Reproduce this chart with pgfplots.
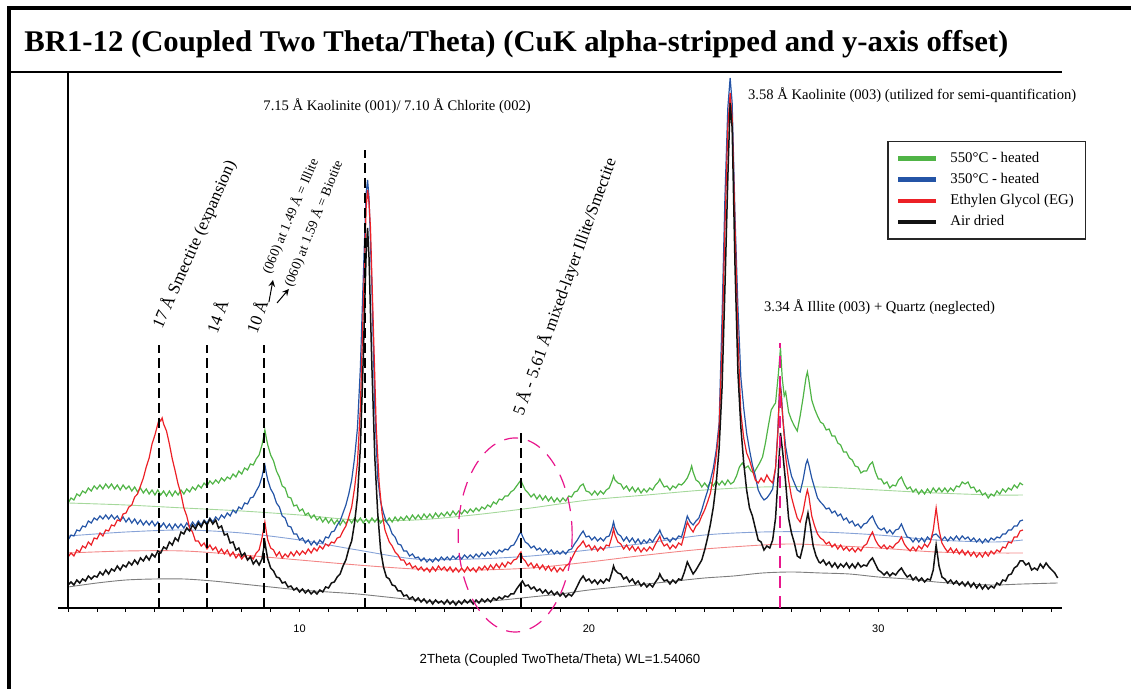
\documentclass[border=0pt]{standalone}
\usepackage{fontspec}
\setmainfont{Liberation Serif}
\newfontfamily\sansf{Liberation Sans}
\usepackage{graphicx}
\usepackage{pgfplots}
\pgfplotsset{compat=1.18}
\definecolor{cgreen}{RGB}{80,180,70}
\definecolor{cblue}{RGB}{36,84,166}
\definecolor{cred}{RGB}{236,32,38}
\definecolor{cblack}{RGB}{18,18,18}
\definecolor{bggreen}{RGB}{165,216,155}
\definecolor{bgblue}{RGB}{135,163,215}
\definecolor{bgred}{RGB}{243,135,135}
\definecolor{bgblack}{RGB}{125,125,125}
\definecolor{cmag}{RGB}{232,22,140}
\begin{document}
\begin{tikzpicture}[x=0.5pt,y=0.5pt]
\useasboundingbox (0,0) rectangle (1131,689);
% outer frame and title
\draw[line width=1.6pt] (9,-20) -- (9,681) -- (1140,681);
\draw[line width=1.3pt] (10,617) -- (1062,617);
\node[anchor=base west, inner sep=0pt] at (24,637) {\resizebox{492pt}{\height}{\bfseries\fontsize{15}{16}\selectfont BR1-12 (Coupled Two Theta/Theta) (CuK alpha-stripped and y-axis offset)}};
\begin{axis}[
  at={(29pt,40.5pt)}, anchor=south west, scale only axis,
  width=502pt, height=266.5pt,
  xmin=1.65, xmax=36.35, ymin=0, ymax=533,
  axis x line*=bottom, axis y line=none,
  x axis line style={line width=0.6pt},
  xtick={10,20,30}, xticklabels={10,20,30},
  minor xtick={2,3,...,36},
  tick align=outside, major tick length=2pt, minor tick length=2pt,
  tick style={black, line width=0.5pt},
  xticklabel style={font=\sansf\fontsize{5.5}{6}\selectfont, yshift=-3pt},
  xlabel={2Theta (Coupled TwoTheta/Theta) WL=1.54060},
  xlabel style={font=\sansf\fontsize{6.6}{7}\selectfont, at={(axis description cs:0.5,0)}, anchor=center, yshift=-26pt},
  clip=false,
  legend style={at={(0.826,0.876)}, anchor=north west, draw=black!85, line width=0.7pt,
    font=\fontsize{7.4}{8}\selectfont, cells={anchor=west}, inner xsep=4pt, inner ysep=3pt,
    /tikz/every odd column/.append style={column sep=4pt}},
  legend image code/.code={\draw[line width=2.2pt] (0pt,0pt) -- (19pt,0pt);},
]
% backgrounds
\addplot[bggreen, line width=0.45pt, smooth, forget plot] coordinates {(2,105)(4,103)(6,100)(8,97)(10,93)(12,88)(14,88)(16,93)(18,100)(20,108)(22,113)(24,118)(26,121)(28,121)(30,118)(32,115)(34,113)(35,113)};
\addplot[bgblue, line width=0.45pt, smooth, forget plot] coordinates {(2,72)(4,76)(6,78)(8,75)(10,68)(12,58)(14,49)(16,49)(18,52)(20,58)(22,65)(24,73)(26,76)(28,76)(30,73)(32,68)(34,66)(35,68)};
\addplot[bgred, line width=0.45pt, smooth, forget plot] coordinates {(2,55)(4,57)(6,57)(8,53)(10,48)(12,43)(14,39)(16,38)(18,40)(20,46)(22,53)(24,59)(26,63)(27,64)(28,63)(30,60)(32,56)(34,55)(35,55)};
\addplot[bgblack, line width=0.45pt, smooth, forget plot] coordinates {(2,21)(3,25)(4,28)(5,29)(6,29)(7,27)(8,24)(9,21)(10,18)(11,16)(12,14)(13,11)(14,8)(15,6)(16,6)(17,8)(18,11)(19,14)(20,18)(21,21)(22,24)(23,27)(24,30)(25,32)(26,35)(27,36)(28,35)(29,34)(30,31)(31,29)(32,26)(33,24)(34,23)(35,24)(36.2,25)};
% 550 C heated
\addplot[cgreen, line width=0.6pt] coordinates {
(2.0,105)(2.1,110)(2.2,108)(2.3,114)(2.4,112)(2.5,117)(2.6,115)(2.7,120)(2.8,117)(2.9,122)(3.0,119)
(3.1,123)(3.2,119)(3.3,124)(3.4,120)(3.5,124)(3.6,119)(3.7,123)(3.8,118)(3.9,123)(4.0,119)
(4.1,122)(4.2,117)(4.3,121)(4.4,116)(4.5,120)(4.6,115)(4.7,119)(4.8,114)(4.9,118)(5.0,113)
(5.1,118)(5.2,113)(5.3,117)(5.4,112)(5.5,117)(5.6,112)(5.7,117)(5.8,113)(5.9,118)(6.0,114)
(6.1,119)(6.2,116)(6.3,121)(6.4,118)(6.5,123)(6.6,120)(6.7,125)(6.8,122)(6.9,127)(7.0,124)
(7.1,128)(7.2,125)(7.3,130)(7.4,127)(7.5,131)(7.6,129)(7.7,134)(7.8,131)(7.9,137)(8.0,134)
(8.1,140)(8.2,138)(8.3,144)(8.4,143)(8.5,149)(8.6,153)(8.7,163)(8.75,170)(8.8,178)(8.85,170)(8.9,163)(9.0,153)
(9.1,147)(9.2,137)(9.3,131)(9.4,122)(9.5,120)(9.6,111)(9.7,110)(9.8,102)(9.9,103)(10.0,97)
(10.1,99)(10.2,93)(10.3,95)(10.4,90)(10.5,93)(10.6,88)(10.7,91)(10.8,86)(10.9,90)(11.0,85)
(11.1,89)(11.2,84)(11.3,88)(11.4,83)(11.5,88)(11.6,84)(11.7,89)(11.8,85)(11.9,90)(12.0,86)
(12.1,90)(12.2,85)(12.3,89)(12.4,85)(12.5,90)(12.6,86)(12.7,90)(12.8,85)(12.9,89)(13.0,86)
(13.1,90)(13.2,86)(13.3,91)(13.4,87)(13.5,91)(13.6,88)(13.7,92)(13.8,88)(13.9,93)(14.0,89)
(14.1,93)(14.2,89)(14.3,94)(14.4,90)(14.5,94)(14.6,90)(14.7,95)(14.8,91)(14.9,95)(15.0,92)
(15.1,96)(15.2,92)(15.3,97)(15.4,93)(15.5,97)(15.6,94)(15.7,98)(15.8,95)(15.9,99)(16.0,96)
(16.1,100)(16.2,97)(16.3,101)(16.4,99)(16.5,103)(16.6,101)(16.7,106)(16.8,104)(16.9,109)(17.0,108)
(17.1,112)(17.2,112)(17.3,116)(17.4,118)(17.5,122)(17.6,126)(17.65,128)(17.7,124)(17.8,118)(17.9,115)(18.0,111)
(18.1,114)(18.2,109)(18.3,113)(18.4,108)(18.5,112)(18.6,107)(18.7,111)(18.8,106)(18.9,110)(19.0,106)
(19.1,110)(19.2,107)(19.3,112)(19.4,111)(19.5,116)(19.6,117)(19.7,122)(19.8,124)(19.9,117)(20.0,116)
(20.1,113)(20.2,117)(20.3,113)(20.4,117)(20.5,114)(20.6,118)(20.7,120)(20.8,127)(20.85,132)(20.9,128)(21.0,125)
(21.1,124)(21.2,119)(21.3,122)(21.4,117)(21.5,121)(21.6,116)(21.7,120)(21.8,115)(21.9,119)(22.0,116)
(22.1,120)(22.2,118)(22.3,123)(22.4,126)(22.45,129)(22.5,126)(22.6,121)(22.7,122)(22.8,118)(22.9,122)(23.0,120)
(23.1,124)(23.2,123)(23.3,126)(23.4,130)(23.5,137)(23.55,142)(23.6,136)(23.7,128)(23.8,126)(23.9,121)(24.0,125)
(24.1,121)(24.2,126)(24.3,122)(24.4,127)(24.5,123)(24.6,127)(24.7,123)(24.8,128)(24.9,124)(25.0,126)
(25.1,132)(25.2,141)(25.3,145)(25.4,140)(25.5,142)(25.6,137)(25.7,135)(25.8,140)(25.9,145)(26.0,151)
(26.1,165)(26.2,182)(26.3,198)(26.4,203)(26.45,205)(26.55,235)(26.62,260)(26.68,230)(26.75,212)(26.8,216)(26.9,196)(27.0,188)(27.1,182)(27.2,177)(27.3,192)(27.4,210)(27.5,230)(27.55,236)(27.6,228)(27.7,208)(27.8,199)
(27.9,192)(28.0,186)(28.1,184)(28.2,178)(28.3,179)(28.4,172)(28.5,172)(28.6,165)(28.7,163)(28.8,156)(28.9,156)(29.0,150)
(29.1,148)(29.2,142)(29.3,141)(29.4,135)(29.5,137)(29.6,137)(29.7,143)(29.8,146)(29.9,136)(30.0,129)
(30.1,129)(30.2,124)(30.3,126)(30.4,120)(30.5,123)(30.6,122)(30.7,128)(30.8,131)(30.9,124)(31.0,119)
(31.1,121)(31.2,116)(31.3,119)(31.4,114)(31.5,118)(31.6,114)(31.7,119)(31.8,115)(31.9,120)(32.0,116)
(32.1,120)(32.2,116)(32.3,120)(32.4,116)(32.5,120)(32.6,117)(32.7,122)(32.8,121)(32.9,126)(33.0,124)
(33.1,126)(33.2,120)(33.3,121)(33.4,116)(33.5,118)(33.6,113)(33.7,115)(33.8,110)(33.9,114)(34.0,112)
(34.1,117)(34.2,114)(34.3,119)(34.4,116)(34.5,120)(34.6,118)(34.7,123)(34.8,120)(34.9,125)(35.0,123)};
\addlegendentry{550°C - heated}
% 350 C heated
\addplot[cblue, line width=0.6pt] coordinates {
(2.0,68)(2.1,73)(2.2,72)(2.3,78)(2.4,77)(2.5,82)(2.6,81)(2.7,87)(2.8,85)(2.9,90)(3.0,88)
(3.1,92)(3.2,89)(3.3,93)(3.4,89)(3.5,93)(3.6,89)(3.7,92)(3.8,87)(3.9,91)(4.0,86)
(4.1,90)(4.2,85)(4.3,89)(4.4,84)(4.5,88)(4.6,83)(4.7,87)(4.8,83)(4.9,87)(5.0,82)
(5.1,86)(5.2,81)(5.3,85)(5.4,80)(5.5,84)(5.6,79)(5.7,84)(5.8,80)(5.9,84)(6.0,80)
(6.1,85)(6.2,81)(6.3,86)(6.4,82)(6.5,87)(6.6,83)(6.7,88)(6.8,85)(6.9,90)(7.0,86)
(7.1,91)(7.2,88)(7.3,93)(7.4,90)(7.5,95)(7.6,92)(7.7,98)(7.8,95)(7.9,101)(8.0,99)
(8.1,105)(8.2,104)(8.3,110)(8.4,111)(8.5,117)(8.6,122)(8.7,131)(8.75,138)(8.8,143)(8.85,135)(8.9,128)(9.0,119)
(9.1,114)(9.2,105)(9.3,101)(9.4,92)(9.5,90)(9.6,82)(9.7,81)(9.8,74)(9.9,74)(10.0,68)
(10.1,70)(10.2,65)(10.3,68)(10.4,63)(10.5,67)(10.6,63)(10.7,68)(10.8,65)(10.9,71)(11.0,70)
(11.1,76)(11.2,77)(11.3,83)(11.4,87)(11.5,95)(11.6,103)(11.7,114)(11.8,128)(11.9,150)(12.0,180)
(12.1,240)(12.2,330)(12.3,415)(12.35,428)(12.4,410)(12.5,320)(12.6,200)(12.7,130)(12.8,106)(12.9,95)(13.0,86)
(13.1,82)(13.2,74)(13.3,71)(13.4,64)(13.5,63)(13.6,57)(13.7,57)(13.8,52)(13.9,54)(14.0,50)
(14.1,51)(14.2,47)(14.3,50)(14.4,46)(14.5,49)(14.6,46)(14.7,50)(14.8,47)(14.9,51)(15.0,48)
(15.1,51)(15.2,48)(15.3,52)(15.4,49)(15.5,52)(15.6,49)(15.7,53)(15.8,50)(15.9,53)(16.0,50)
(16.1,54)(16.2,51)(16.3,55)(16.4,52)(16.5,56)(16.6,53)(16.7,57)(16.8,54)(16.9,58)(17.0,56)
(17.1,59)(17.2,58)(17.3,62)(17.4,63)(17.5,68)(17.6,74)(17.65,76)(17.7,72)(17.8,66)(17.9,64)(18.0,60)
(18.1,62)(18.2,58)(18.3,60)(18.4,56)(18.5,59)(18.6,55)(18.7,58)(18.8,54)(18.9,57)(19.0,54)
(19.1,57)(19.2,54)(19.3,58)(19.4,59)(19.5,64)(19.6,68)(19.7,73)(19.8,77)(19.9,71)(20.0,72)
(20.1,68)(20.2,71)(20.3,67)(20.4,70)(20.5,67)(20.6,71)(20.7,72)(20.8,80)(20.85,86)(20.9,80)(21.0,74)
(21.1,72)(21.2,67)(21.3,71)(21.4,66)(21.5,70)(21.6,65)(21.7,69)(21.8,64)(21.9,68)(22.0,65)
(22.1,69)(22.2,66)(22.3,71)(22.4,75)(22.45,78)(22.5,74)(22.6,69)(22.7,70)(22.8,66)(22.9,70)(23.0,68)
(23.1,72)(23.2,71)(23.3,81)(23.4,92)(23.5,86)(23.6,83)(23.7,87)(23.8,90)(23.9,98)(24.0,108)
(24.1,117)(24.2,128)(24.3,140)(24.4,158)(24.5,185)(24.6,290)(24.7,410)(24.8,500)(24.88,530)(24.95,505)(25.05,390)(25.15,300)(25.25,231)
(25.35,200)(25.45,175)(25.55,158)(25.65,143)(25.75,132)(25.85,118)(25.95,112)(26.05,108)(26.15,110)(26.25,114)(26.35,119)(26.45,140)(26.53,178)(26.6,228)(26.65,215)(26.7,190)(26.8,161)(26.9,145)(27.0,132)(27.1,125)(27.2,118)(27.3,116)(27.4,128)(27.5,144)(27.55,148)(27.6,143)(27.7,130)(27.8,120)(27.9,110)
(28.0,106)(28.1,103)(28.2,99)(28.3,100)(28.4,95)(28.5,97)(28.6,92)(28.7,94)(28.8,88)(28.9,90)(29.0,85)
(29.1,87)(29.2,82)(29.3,84)(29.4,80)(29.5,84)(29.6,85)(29.7,89)(29.8,92)(29.9,85)(30.0,80)
(30.1,78)(30.2,80)(30.3,75)(30.4,78)(30.5,74)(30.6,78)(30.7,79)(30.8,84)(30.9,77)(31.0,71)
(31.1,70)(31.2,66)(31.3,70)(31.4,66)(31.5,70)(31.6,66)(31.7,71)(31.8,68)(31.9,73)(32.0,74)(32.1,71)(32.2,68)
(32.3,71)(32.4,67)(32.5,71)(32.6,68)(32.7,72)(32.8,68)(32.9,72)(33.0,69)
(33.1,71)(33.2,67)(33.3,70)(33.4,66)(33.5,69)(33.6,65)(33.7,69)(33.8,66)(33.9,70)(34.0,68)
(34.1,71)(34.2,70)(34.3,74)(34.4,74)(34.5,78)(34.6,78)(34.7,82)(34.8,82)(34.9,87)(35.0,88)};
\addlegendentry{350°C - heated}
% Ethylen Glycol
\addplot[cred, line width=0.6pt] coordinates {
(2.0,51)(2.1,55)(2.2,52)(2.3,58)(2.4,56)(2.5,62)(2.6,60)(2.7,66)(2.8,63)(2.9,70)(3.0,69)
(3.1,75)(3.2,72)(3.3,78)(3.4,77)(3.5,83)(3.6,82)(3.7,88)(3.8,87)(3.9,94)(4.0,95)
(4.1,101)(4.2,103)(4.3,111)(4.4,114)(4.5,122)(4.6,130)(4.7,141)(4.8,150)(4.9,164)(5.0,173)
(5.1,184)(5.15,189)(5.2,187)(5.25,190)(5.3,184)(5.4,177)(5.5,164)(5.6,149)(5.7,137)(5.8,124)(5.9,114)(6.0,100)
(6.1,92)(6.2,80)(6.3,76)(6.4,67)(6.5,67)(6.6,62)(6.7,65)(6.8,59)(6.9,63)(7.0,58)
(7.1,61)(7.2,55)(7.3,59)(7.4,54)(7.5,58)(7.6,52)(7.7,56)(7.8,50)(7.9,54)(8.0,49)
(8.1,53)(8.2,48)(8.3,52)(8.4,49)(8.5,55)(8.6,58)(8.7,70)(8.8,86)(8.85,76)(8.9,68)(9.0,60)
(9.1,58)(9.2,52)(9.3,56)(9.4,50)(9.5,54)(9.6,51)(9.7,56)(9.8,52)(9.9,57)(10.0,53)
(10.1,57)(10.2,54)(10.3,59)(10.4,55)(10.5,60)(10.6,57)(10.7,62)(10.8,59)(10.9,64)(11.0,62)
(11.1,66)(11.2,65)(11.3,70)(11.4,71)(11.5,77)(11.6,82)(11.7,91)(11.8,101)(11.9,120)(12.0,145)
(12.1,200)(12.2,300)(12.3,400)(12.35,418)(12.4,405)(12.45,380)(12.55,280)(12.65,180)(12.75,125)(12.85,95)(12.95,78)(13.05,70)
(13.1,66)(13.2,62)(13.3,56)(13.4,53)(13.5,48)(13.6,48)(13.7,43)(13.8,45)(13.9,40)(14.0,42)
(14.1,38)(14.2,41)(14.3,37)(14.4,40)(14.5,36)(14.6,41)(14.7,37)(14.8,42)(14.9,38)(15.0,41)
(15.1,37)(15.2,41)(15.3,36)(15.4,40)(15.5,36)(15.6,40)(15.7,36)(15.8,41)(15.9,37)(16.0,40)
(16.1,36)(16.2,41)(16.3,38)(16.4,42)(16.5,38)(16.6,43)(16.7,39)(16.8,44)(16.9,40)(17.0,45)
(17.1,41)(17.2,46)(17.3,44)(17.4,48)(17.5,49)(17.6,54)(17.65,56)(17.7,50)(17.8,47)(17.9,42)(18.0,45)
(18.1,40)(18.2,44)(18.3,39)(18.4,43)(18.5,38)(18.6,42)(18.7,37)(18.8,41)(18.9,36)(19.0,40)
(19.1,37)(19.2,42)(19.3,44)(19.4,49)(19.5,55)(19.6,60)(19.7,63)(19.8,67)(19.9,61)(20.0,63)
(20.1,58)(20.2,62)(20.3,57)(20.4,61)(20.5,58)(20.6,63)(20.7,62)(20.8,72)(20.85,79)(20.9,73)(21.0,66)
(21.1,64)(21.2,59)(21.3,63)(21.4,58)(21.5,62)(21.6,57)(21.7,61)(21.8,56)(21.9,60)(22.0,57)
(22.1,61)(22.2,58)(22.3,64)(22.4,69)(22.45,72)(22.5,67)(22.6,62)(22.7,64)(22.8,59)(22.9,63)(23.0,60)
(23.1,65)(23.2,63)(23.3,74)(23.4,86)(23.5,80)(23.6,76)(23.7,82)(23.8,85)(23.9,92)(24.0,98)
(24.1,106)(24.2,115)(24.3,132)(24.4,152)(24.5,180)(24.6,260)(24.7,380)(24.8,480)(24.88,515)(24.95,490)(25.05,380)(25.15,270)(25.25,195)
(25.35,170)(25.45,155)(25.55,148)(25.65,138)(25.75,128)(25.85,125)(25.95,130)(26.05,126)(26.15,133)(26.25,128)(26.35,125)(26.45,140)(26.53,175)(26.6,228)(26.7,190)(26.8,151)(26.9,128)(27.0,111)(27.1,100)(27.2,90)(27.3,86)(27.4,96)(27.5,112)(27.55,118)(27.6,112)(27.7,92)(27.8,82)(27.9,74)
(28.0,70)(28.1,68)(28.2,64)(28.3,66)(28.4,61)(28.5,64)(28.6,59)(28.7,63)(28.8,58)(28.9,61)(29.0,57)
(29.1,60)(29.2,56)(29.3,60)(29.4,57)(29.5,62)(29.6,64)(29.7,71)(29.8,76)(29.9,68)(30.0,63)
(30.1,60)(30.2,63)(30.3,59)(30.4,62)(30.5,60)(30.6,64)(30.7,66)(30.8,71)(30.9,64)(31.0,60)
(31.1,57)(31.2,61)(31.3,57)(31.4,62)(31.5,59)(31.6,64)(31.7,61)(31.8,66)(31.9,78)(32.0,100)(32.1,78)(32.2,65)
(32.3,60)(32.4,56)(32.5,60)(32.6,55)(32.7,59)(32.8,54)(32.9,58)(33.0,53)
(33.1,57)(33.2,52)(33.3,56)(33.4,51)(33.5,55)(33.6,51)(33.7,56)(33.8,52)(33.9,57)(34.0,54)
(34.1,58)(34.2,56)(34.3,61)(34.4,60)(34.5,66)(34.6,65)(34.7,71)(34.8,71)(34.9,77)(35.0,78)};
\addlegendentry{Ethylen Glycol (EG)}
% Air dried
\addplot[cblack, line width=0.75pt] coordinates {
(2.0,23)(2.1,26)(2.2,23)(2.3,28)(2.4,25)(2.5,29)(2.6,27)(2.7,32)(2.8,29)(2.9,32)(3.0,31)
(3.1,36)(3.2,33)(3.3,38)(3.4,34)(3.5,39)(3.6,37)(3.7,42)(3.8,38)(3.9,43)(4.0,41)
(4.1,46)(4.2,43)(4.3,48)(4.4,44)(4.5,50)(4.6,47)(4.7,52)(4.8,48)(4.9,54)(5.0,51)
(5.1,57)(5.2,55)(5.3,61)(5.4,59)(5.5,66)(5.6,63)(5.7,70)(5.8,67)(5.9,76)(6.0,74)
(6.1,80)(6.2,77)(6.3,83)(6.4,79)(6.5,85)(6.6,81)(6.7,87)(6.8,83)(6.9,89)(7.0,84)
(7.1,88)(7.2,80)(7.3,82)(7.4,73)(7.5,74)(7.6,65)(7.7,66)(7.8,58)(7.9,60)(8.0,52)
(8.1,55)(8.2,48)(8.3,51)(8.4,44)(8.5,48)(8.6,43)(8.7,49)(8.75,58)(8.8,66)(8.85,57)(8.9,49)(9.0,40)
(9.1,37)(9.2,31)(9.3,30)(9.4,25)(9.5,26)(9.6,21)(9.7,22)(9.8,18)(9.9,20)(10.0,16)
(10.1,19)(10.2,15)(10.3,18)(10.4,14)(10.5,17)(10.6,14)(10.7,18)(10.8,16)(10.9,21)(11.0,20)
(11.1,25)(11.2,26)(11.3,31)(11.4,34)(11.5,42)(11.6,48)(11.7,59)(11.8,67)(11.9,85)(12.0,111)
(12.1,160)(12.2,250)(12.3,355)(12.35,380)(12.4,350)(12.5,240)(12.6,150)(12.7,95)(12.8,58)(12.9,41)(13.0,31)
(13.1,29)(13.2,23)(13.3,22)(13.4,17)(13.5,17)(13.6,12)(13.7,13)(13.8,9)(13.9,11)(14.0,7)
(14.1,10)(14.2,6)(14.3,9)(14.4,5)(14.5,8)(14.6,4)(14.7,8)(14.8,5)(14.9,7)(15.0,4)
(15.1,8)(15.2,4)(15.3,7)(15.4,3)(15.5,7)(15.6,4)(15.7,8)(15.8,5)(15.9,8)(16.0,4)
(16.1,8)(16.2,5)(16.3,9)(16.4,6)(16.5,9)(16.6,6)(16.7,10)(16.8,8)(16.9,11)(17.0,9)
(17.1,12)(17.2,11)(17.3,14)(17.4,14)(17.5,19)(17.6,23)(17.7,27)(17.8,22)(17.9,23)(18.0,19)
(18.1,21)(18.2,17)(18.3,19)(18.4,15)(18.5,18)(18.6,14)(18.7,17)(18.8,13)(18.9,16)(19.0,12)
(19.1,15)(19.2,11)(19.3,14)(19.4,12)(19.5,16)(19.6,22)(19.7,28)(19.8,32)(19.9,27)(20.0,29)
(20.1,25)(20.2,28)(20.3,24)(20.4,28)(20.5,25)(20.6,29)(20.7,27)(20.8,36)(20.85,42)(20.9,38)(21.0,35)
(21.1,34)(21.2,29)(21.3,31)(21.4,26)(21.5,29)(21.6,24)(21.7,27)(21.8,22)(21.9,25)(22.0,21)
(22.1,24)(22.2,21)(22.3,26)(22.4,30)(22.45,34)(22.5,31)(22.6,27)(22.7,28)(22.8,24)(22.9,28)(23.0,25)
(23.1,29)(23.2,28)(23.3,36)(23.4,46)(23.5,40)(23.6,34)(23.7,38)(23.8,43)(23.9,48)(24.0,58)
(24.1,70)(24.2,84)(24.3,101)(24.4,125)(24.5,160)(24.6,220)(24.7,320)(24.8,430)(24.88,505)(24.95,480)(25.05,340)(25.15,235)(25.25,181)
(25.35,145)(25.45,118)(25.55,100)(25.65,92)(25.75,80)(25.85,68)(25.95,66)(26.05,58)(26.15,62)(26.25,60)(26.35,68)(26.45,90)(26.53,128)(26.62,175)(26.7,155)(26.8,125)(26.9,90)(27.0,75)(27.1,65)(27.2,52)(27.3,50)(27.4,62)(27.5,85)(27.57,95)(27.65,82)(27.75,62)(27.85,52)(27.95,46)
(28.0,45)(28.1,48)(28.2,43)(28.3,46)(28.4,41)(28.5,45)(28.6,40)(28.7,44)(28.8,41)(28.9,45)(29.0,40)
(29.1,44)(29.2,40)(29.3,45)(29.4,41)(29.5,43)(29.6,42)(29.7,47)(29.8,50)(29.9,44)(30.0,38)
(30.1,36)(30.2,33)(30.3,36)(30.4,32)(30.5,35)(30.6,33)(30.7,37)(30.8,40)(30.9,35)(31.0,31)
(31.1,33)(31.2,28)(31.3,31)(31.4,27)(31.5,30)(31.6,26)(31.7,29)(31.8,28)(31.9,38)(32.0,63)(32.1,42)(32.2,31)
(32.3,29)(32.4,25)(32.5,28)(32.6,24)(32.7,27)(32.8,23)(32.9,26)(33.0,22)
(33.1,26)(33.2,21)(33.3,25)(33.4,20)(33.5,24)(33.6,19)(33.7,23)(33.8,19)(33.9,22)(34.0,20)
(34.1,25)(34.2,23)(34.3,28)(34.4,27)(34.5,33)(34.6,34)(34.7,40)(34.8,42)(34.9,47)(35.0,47)
(35.1,43)(35.2,45)(35.3,38)(35.4,40)(35.5,38)(35.6,44)(35.7,40)(35.8,45)(35.9,41)(36.0,38)(36.1,35)(36.2,30)};
\addlegendentry{Air dried}
% y axis line
\draw[line width=1pt] (axis cs:2,0) -- (axis cs:2,537);
% dashed marker lines
\begin{scope}[line width=0.6pt, dash pattern=on 5pt off 2.5pt]
\draw (axis cs:5.14,0) -- (axis cs:5.14,263);
\draw (axis cs:6.80,0) -- (axis cs:6.80,263);
\draw (axis cs:8.77,0) -- (axis cs:8.77,263);
\draw (axis cs:12.26,0) -- (axis cs:12.26,458);
\draw (axis cs:17.65,0) -- (axis cs:17.65,176);
\end{scope}
\draw[cmag, line width=0.8pt, dash pattern=on 6pt off 4pt] (axis cs:26.61,0) -- (axis cs:26.61,265);
\draw[cmag, line width=0.6pt, dash pattern=on 7pt off 5pt] (axis cs:17.45,73) ellipse [x radius=28.5pt, y radius=48.5pt];
% annotations
\node[anchor=center, font=\fontsize{7.3}{8}\selectfont] at (axis cs:13.37,502) {7.15 Å Kaolinite (001)/ 7.10 Å Chlorite (002)};
\node[anchor=west, font=\fontsize{7.3}{8}\selectfont] at (axis cs:25.26,513) {3.58 Å Kaolinite (003) (utilized for semi-quantification)};
\node[anchor=west, font=\fontsize{7.3}{8}\selectfont] at (axis cs:25.81,301) {3.34 Å Illite (003) + Quartz (neglected)};
\node[anchor=base west, rotate=66, inner sep=0pt, font=\fontsize{8.5}{9}\selectfont] at (axis cs:5.24,278) {17 Å Smectite (expansion)};
\node[anchor=base west, rotate=70, inner sep=0pt, font=\fontsize{8.5}{9}\selectfont] at (axis cs:7.15,273) {14 Å};
\node[anchor=base west, rotate=70, inner sep=0pt, font=\fontsize{8.5}{9}\selectfont] at (axis cs:8.53,273) {10 Å};
\node[anchor=base west, rotate=67, inner sep=0pt, font=\fontsize{6.8}{7}\selectfont] at (axis cs:8.98,333) {(060) at 1.49 Å = Illite};
\node[anchor=base west, rotate=68, inner sep=0pt, font=\fontsize{6.8}{7}\selectfont] at (axis cs:9.74,320) {(060) at 1.59 Å = Biotite};
\draw[-stealth, line width=0.5pt] (axis cs:8.94,306) -- (axis cs:9.08,328);
\draw[-stealth, line width=0.5pt] (axis cs:9.22,305) -- (axis cs:9.63,319);
\node[anchor=base west, rotate=70, inner sep=0pt, font=\fontsize{8.5}{9}\selectfont] at (axis cs:17.72,191) {5 Å - 5.61 Å mixed-layer Illite/Smectite};
\end{axis}
\end{tikzpicture}
\end{document}
